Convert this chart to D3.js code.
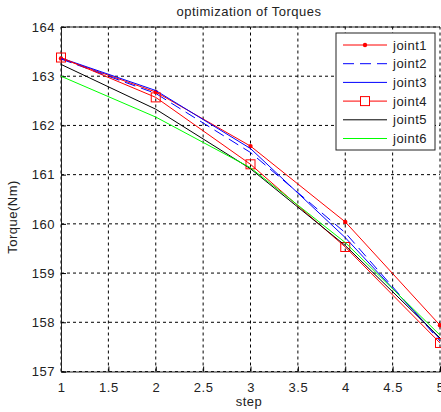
<!DOCTYPE html>
<html>
<head>
<meta charset="utf-8">
<script src="https://cdn.jsdelivr.net/npm/d3@7"></script>
<style>
  body { margin: 0; background: #fff; }
  text { font-family: "Liberation Sans", Arial, sans-serif; font-size: 13px; letter-spacing: 0.5px; fill: #222; }
</style>
</head>
<body>
<svg id="chart"></svg>
<script>
const steps = [1, 2, 3, 4, 5];
const joint1 = [163.36, 162.68, 161.58, 160.04, 157.94];
const joint2 = [163.35, 162.65, 161.45, 159.82, 157.62];
const joint3 = [163.37, 162.71, 161.53, 159.72, 157.66];
const joint4 = [163.38, 162.57, 161.21, 159.53, 157.58];
const joint5 = [163.24, 162.33, 161.12, 159.56, 157.68];
const joint6 = [163.0, 162.17, 161.14, 159.62, 157.74];
const names = ["joint1", "joint2", "joint3", "joint4", "joint5", "joint6"];
const xTicks = [1, 1.5, 2, 2.5, 3, 3.5, 4, 4.5, 5];
const yTicks = [157, 158, 159, 160, 161, 162, 163, 164];

const W = 441, H = 412;
const svg = d3.select("#chart").attr("width", W).attr("height", H);

const x = d3.scaleLinear().domain([1, 5]).range([61, 440]);
const y = d3.scaleLinear().domain([157, 164]).range([371.5, 27]);

// series styles, in draw order
const series = [
    { name: names[0], values: joint1, color: "#ff0000", dash: null, marker: "dot" },
    { name: names[1], values: joint2, color: "#0000ff", dash: "11,6", marker: null },
    { name: names[2], values: joint3, color: "#0000ff", dash: null, marker: null },
    { name: names[3], values: joint4, color: "#ff0000", dash: null, marker: "square" },
    { name: names[4], values: joint5, color: "#000000", dash: null, marker: null },
    { name: names[5], values: joint6, color: "#00ff00", dash: null, marker: null }
];

// dashed grid
const grid = svg.append("g").attr("class", "grid");
grid.selectAll(".vg")
    .data(xTicks)
    .enter()
    .append("line")
    .attr("x1", d => x(d)).attr("x2", d => x(d))
    .attr("y1", y(157)).attr("y2", y(164))
    .attr("stroke", "#000").attr("stroke-width", 1)
    .attr("stroke-dasharray", "3,3");
grid.selectAll(".hg")
    .data(yTicks)
    .enter()
    .append("line")
    .attr("x1", x(1)).attr("x2", x(5))
    .attr("y1", d => y(d)).attr("y2", d => y(d))
    .attr("stroke", "#000").attr("stroke-width", 1)
    .attr("stroke-dasharray", "3,3");

// axes
const xAxis = d3.axisBottom(x).tickValues(xTicks).tickSize(-5).tickPadding(8).tickFormat(d => String(d));
const yAxis = d3.axisLeft(y).tickValues(yTicks).tickSize(-5).tickPadding(6).tickFormat(d => String(d));

svg.append("g")
    .attr("transform", "translate(0," + y(157) + ")")
    .call(xAxis)
    .call(g => g.select(".domain").attr("stroke", "#222"))
    .call(g => g.selectAll("text").attr("font-size", 13).attr("fill", "#222").attr("dy", "0.95em"));

svg.append("g")
    .attr("transform", "translate(" + x(1) + ",0)")
    .call(yAxis)
    .call(g => g.select(".domain").attr("stroke", "#222"))
    .call(g => g.selectAll("text").attr("font-size", 13).attr("fill", "#222"));

// top border
svg.append("line")
    .attr("x1", x(1)).attr("x2", x(5))
    .attr("y1", y(164)).attr("y2", y(164))
    .attr("stroke", "#222");

// lines
const line = d3.line()
    .x((d, i) => x(steps[i]))
    .y(d => y(d));

const lines = svg.append("g").attr("class", "lines");
series.forEach(s => {
    lines.append("path")
        .attr("d", line(s.values))
        .attr("fill", "none")
        .attr("stroke", s.color)
        .attr("stroke-width", 1)
        .attr("stroke-dasharray", s.dash);
    if (s.marker === "dot") {
        lines.selectAll(null)
            .data(s.values)
            .enter()
            .append("circle")
            .attr("cx", (d, i) => x(steps[i]))
            .attr("cy", d => y(d))
            .attr("r", 2.2)
            .attr("fill", s.color);
    } else if (s.marker === "square") {
        lines.selectAll(null)
            .data(s.values)
            .enter()
            .append("rect")
            .attr("x", (d, i) => x(steps[i]) - 4.5)
            .attr("y", d => y(d) - 4.5)
            .attr("width", 9)
            .attr("height", 9)
            .attr("fill", "none")
            .attr("stroke", s.color);
    }
});

// title and labels
svg.append("text")
    .attr("x", 249).attr("y", 16)
    .attr("text-anchor", "middle")
    .text("optimization of Torques");

svg.append("text")
    .attr("x", 249).attr("y", 406)
    .attr("text-anchor", "middle")
    .text("step");

svg.append("text")
    .attr("transform", "translate(17,217) rotate(-90)")
    .attr("text-anchor", "middle")
    .text("Torque(Nm)");

// legend
const legend = svg.append("g").attr("transform", "translate(336,33)");
legend.append("rect")
    .attr("width", 99).attr("height", 117)
    .attr("fill", "#fff")
    .attr("stroke", "#222");

const item = legend.selectAll(".item")
    .data(series)
    .enter()
    .append("g")
    .attr("class", "item")
    .attr("transform", (d, i) => "translate(0," + (12 + i * 18.7) + ")");

item.append("line")
    .attr("x1", 7).attr("x2", 51)
    .attr("stroke", d => d.color)
    .attr("stroke-dasharray", d => d.dash);

item.filter(d => d.marker === "dot")
    .append("circle")
    .attr("cx", 29).attr("r", 2.2)
    .attr("fill", d => d.color);

item.filter(d => d.marker === "square")
    .append("rect")
    .attr("x", 24.5).attr("y", -4.5)
    .attr("width", 9).attr("height", 9)
    .attr("fill", "#fff")
    .attr("stroke", d => d.color);

item.append("text")
    .attr("x", 57).attr("dy", "0.35em")
    .text(d => d.name);
</script>
</body>
</html>
